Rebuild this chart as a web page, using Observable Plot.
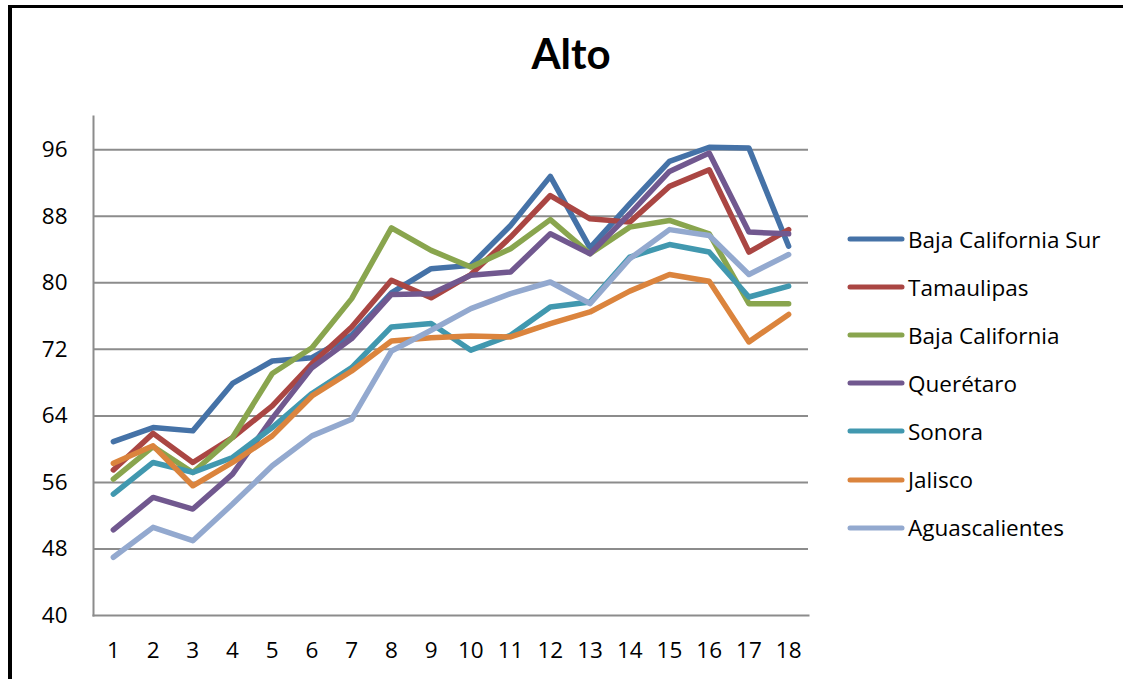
<!DOCTYPE html>
<html>
<head>
<meta charset="utf-8">
<script src="https://cdn.jsdelivr.net/npm/d3@7"></script>
<script src="https://cdn.jsdelivr.net/npm/@observablehq/plot@0.6"></script>
<style>
  html, body { margin: 0; background: #fff; overflow: hidden; width: 1123px; height: 679px; }
  #hbar { position: absolute; left: 8px; top: 5px; width: 1115px; height: 3px; background: #000; }
  #vbar { position: absolute; left: 8px; top: 5px; width: 4px; height: 674px; background: #000; }
  #title { position: absolute; left: 0; top: 32px; width: 1142px; text-align: center; font: bold 42px Lato, sans-serif; line-height: 1; color: #000; }
  #chart { position: absolute; left: 0; top: 100px; }
  #legend { position: absolute; left: 846px; top: 215px; }
  .row { display: flex; align-items: center; height: 48.1px; font: 22.5px "Open Sans", sans-serif; color: #000; white-space: nowrap; }
  .row svg { margin-right: 2px; }
</style>
</head>
<body>
<div id="hbar"></div>
<div id="vbar"></div>
<div id="title">Alto</div>
<div id="chart"></div>
<div id="legend"></div>
<script>
const categories = [1, 2, 3, 4, 5, 6, 7, 8, 9, 10, 11, 12, 13, 14, 15, 16, 17, 18];
const seriesNames = ["Baja California Sur", "Tamaulipas", "Baja California", "Querétaro", "Sonora", "Jalisco", "Aguascalientes"];
const colors = ["#4572A7", "#AA4643", "#89A54E", "#71588F", "#4198AF", "#DB843D", "#93A9CF"];
const yTicks = [40, 48, 56, 64, 72, 80, 88, 96];

const bajaCaliforniaSur = [60.9, 62.6, 62.2, 67.9, 70.6, 71.0, 73.7, 78.8, 81.7, 82.1, 86.9, 92.8, 84.2, 89.5, 94.6, 96.3, 96.2, 84.4];
const tamaulipas        = [57.5, 61.9, 58.4, 61.4, 65.2, 70.3, 74.7, 80.3, 78.2, 81.0, 85.5, 90.5, 87.7, 87.3, 91.6, 93.6, 83.7, 86.4];
const bajaCalifornia    = [56.4, 60.3, 57.2, 61.4, 69.1, 72.2, 78.1, 86.6, 83.9, 81.9, 84.1, 87.6, 83.5, 86.7, 87.5, 85.9, 77.5, 77.5];
const queretaro         = [50.3, 54.2, 52.8, 57.0, 63.7, 69.8, 73.3, 78.6, 78.7, 80.9, 81.3, 85.9, 83.5, 88.3, 93.4, 95.6, 86.1, 85.9];
const sonora            = [54.6, 58.4, 57.2, 59.0, 62.6, 66.7, 69.8, 74.7, 75.1, 71.9, 73.7, 77.1, 77.7, 83.1, 84.6, 83.7, 78.3, 79.6];
const jalisco           = [58.3, 60.4, 55.6, 58.4, 61.6, 66.4, 69.4, 73.0, 73.4, 73.6, 73.5, 75.1, 76.5, 79.0, 81.0, 80.2, 72.9, 76.2];
const aguascalientes    = [47.0, 50.6, 49.0, 53.4, 58.0, 61.6, 63.6, 71.8, 74.3, 76.9, 78.7, 80.1, 77.5, 82.9, 86.4, 85.7, 81.0, 83.4];

const seriesValues = [bajaCaliforniaSur, tamaulipas, bajaCalifornia, queretaro, sonora, jalisco, aguascalientes];

const data = [];
seriesNames.forEach((name, s) => {
  categories.forEach((c, i) => data.push({series: name, x: c, y: seriesValues[s][i]}));
});

const gridColor = "#8c8c8c";

const chart = Plot.plot({
  width: 1123,
  height: 579,
  marginLeft: 93,
  marginRight: 315,
  marginTop: 16,
  marginBottom: 64,
  style: {fontFamily: "'Open Sans', sans-serif", fontSize: "22.5px", color: "#000", background: "transparent"},
  x: {type: "point", domain: categories, padding: 0.5, round: false, label: null},
  y: {domain: [40, 100], label: null},
  color: {domain: seriesNames, range: colors},
  marks: [
    Plot.ruleY(yTicks.filter(d => d > 40), {stroke: gridColor, strokeWidth: 2}),
    Plot.frame({anchor: "left", stroke: gridColor, strokeWidth: 2}),
    Plot.frame({anchor: "bottom", stroke: gridColor, strokeWidth: 2}),
    Plot.axisY({ticks: yTicks, tickSize: 0, tickPadding: 26, tickFormat: d => d, fontSize: 22.5, label: null}),
    Plot.axisX({tickSize: 0, tickPadding: 27, fontSize: 22.5, label: null}),
    Plot.lineY(data, {x: "x", y: "y", z: "series", stroke: "series", strokeWidth: 5.5, strokeLinejoin: "round", strokeLinecap: "round"})
  ]
});
document.getElementById("chart").appendChild(chart);

const legend = document.getElementById("legend");
seriesNames.forEach((name, i) => {
  const row = document.createElement("div");
  row.className = "row";
  row.innerHTML = `<svg width="60" height="10"><line x1="4" y1="5" x2="56" y2="5" stroke="${colors[i]}" stroke-width="5" stroke-linecap="round"/></svg><span>${name}</span>`;
  legend.appendChild(row);
});
</script>
</body>
</html>
